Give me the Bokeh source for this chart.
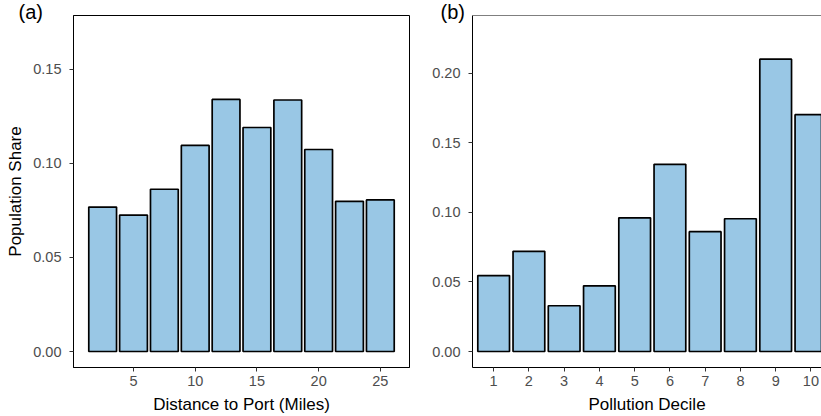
from bokeh.plotting import figure
from bokeh.layouts import row
from bokeh.models import (ColumnDataSource, FixedTicker, NumeralTickFormatter,
                          Range1d, Title, Span)
from bokeh.embed import file_html
from bokeh.resources import INLINE

# ---- data ----
dist_miles = [2.5, 5, 7.5, 10, 12.5, 15, 17.5, 20, 22.5, 25]
dist_share = [0.0767, 0.0725, 0.0862, 0.1095, 0.1339, 0.1190, 0.1336, 0.1073, 0.0798, 0.0805]
dist_ticks = [5, 10, 15, 20, 25]

decile = [1, 2, 3, 4, 5, 6, 7, 8, 9, 10]
decile_share = [0.0546, 0.0720, 0.0329, 0.0472, 0.0961, 0.1345, 0.0861, 0.0954, 0.2101, 0.1702]

left_yticks = [0.0, 0.05, 0.10, 0.15]
right_yticks = [0.0, 0.05, 0.10, 0.15, 0.20]

FONT = "Liberation Sans"
FILL = "#99C7E5"
TICK_COLOR = "#4D4D4D"


def style(p, xticks, yticks, xlabel, ylabel):
    for ax in (p.xaxis[0], p.yaxis[0]):
        ax.axis_line_color = "black"
        ax.axis_line_width = 1
        ax.major_tick_line_color = "#333333"
        ax.major_tick_in = 0
        ax.major_tick_out = 4
        ax.minor_tick_line_color = None
        ax.major_label_text_font = FONT
        ax.major_label_text_font_size = "14.5px"
        ax.major_label_text_color = TICK_COLOR
        ax.axis_label_text_font = FONT
        ax.axis_label_text_font_size = "17px"
        ax.axis_label_text_font_style = "normal"
        ax.axis_label_text_color = "black"
    p.xaxis[0].ticker = FixedTicker(ticks=xticks)
    p.yaxis[0].ticker = FixedTicker(ticks=yticks)
    p.yaxis[0].formatter = NumeralTickFormatter(format="0.00")
    p.xaxis[0].axis_label = xlabel
    p.xaxis[0].major_label_standoff = 4
    p.xaxis[0].axis_label_standoff = 6
    p.yaxis[0].major_label_standoff = 8
    p.yaxis[0].axis_label_standoff = 5
    if ylabel:
        p.yaxis[0].axis_label = ylabel
    p.xgrid.grid_line_color = None
    p.ygrid.grid_line_color = None
    p.background_fill_color = "white"
    p.border_fill_color = "white"


def tag(p, text, offset):
    p.add_layout(Title(text=text, align="left", offset=offset, vertical_align="top",
                       standoff=-30, padding=(10, 0, 0, 0),
                       text_font=FONT, text_font_size="20px",
                       text_font_style="normal", text_color="black"), "above")


# ---- panel (a) ----
pa = figure(width=411, height=416, output_backend="svg", toolbar_location=None,
            x_range=Range1d(0.1375, 27.3625), y_range=Range1d(-0.0085, 0.1785),
            min_border_left=73, min_border_right=2, min_border_top=15, min_border_bottom=49)
src_a = ColumnDataSource(dict(x=dist_miles, top=dist_share))
pa.vbar(x="x", top="top", bottom=0, width=2.25, source=src_a,
        fill_color=FILL, line_color="black", line_width=1.7)
style(pa, dist_ticks, left_yticks, "Distance to Port (Miles)", "Population Share")
pa.outline_line_color = "black"
pa.outline_line_width = 1
pa.outline_line_alpha = 1
tag(pa, "(a)", -65)

# ---- panel (b) ----
pb = figure(width=410, height=416, output_backend="svg", toolbar_location=None,
            x_range=Range1d(0.4, 10.3), y_range=Range1d(-0.0115, 0.2415),
            min_border_left=61, min_border_right=0, min_border_top=15, min_border_bottom=49)
src_b = ColumnDataSource(dict(x=decile, top=decile_share))
pb.vbar(x="x", top="top", bottom=0, width=0.9, source=src_b,
        fill_color=FILL, line_color="black", line_width=1.7)
style(pb, decile, right_yticks, "Pollution Decile", None)
pb.outline_line_color = None
pb.add_layout(Span(location=0.2415, dimension="width", line_color="black", line_width=1))
tag(pb, "(b)", -42)

layout = row(pa, pb)
open("out.html", "w").write(file_html(layout, INLINE))
